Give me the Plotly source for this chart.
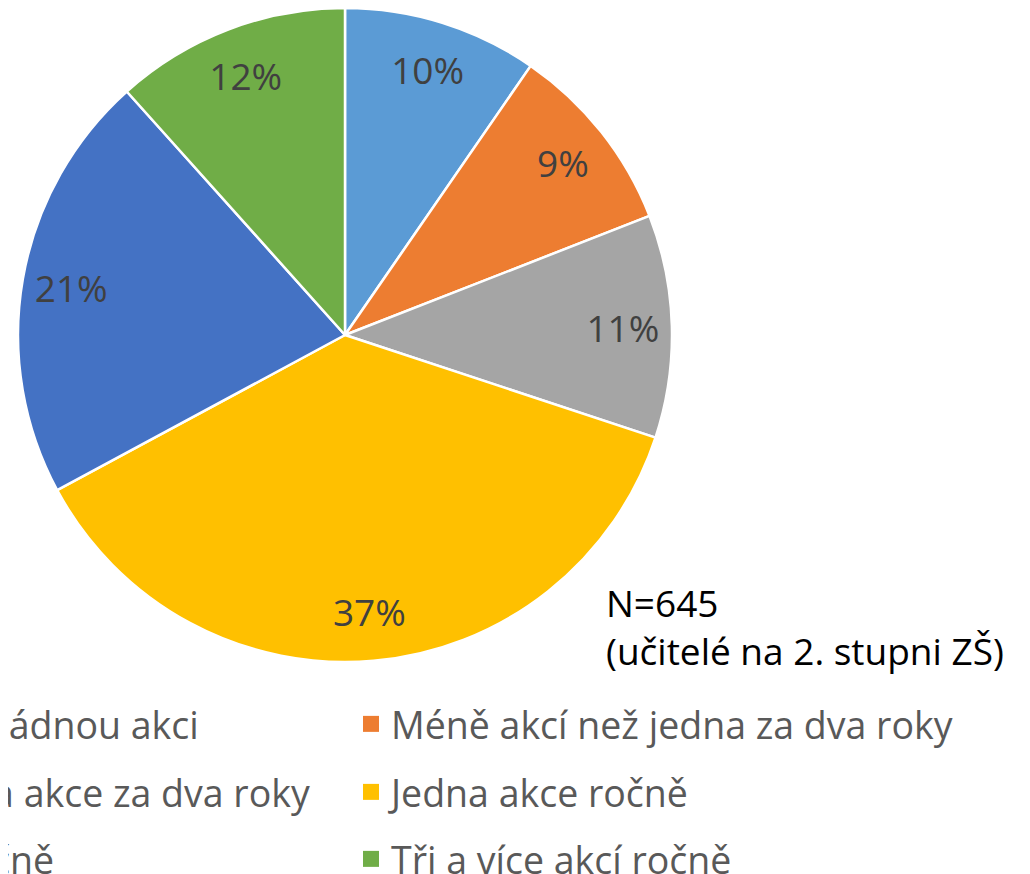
import plotly.graph_objects as go

labels = [
    "Nezúčastnil(a) jsem se žádnou akci",
    "Méně akcí než jedna za dva roky",
    "Jedna akce za dva roky",
    "Jedna akce ročně",
    "Dvě akce ročně",
    "Tři a více akcí ročně",
]
counts = [62, 61, 71, 239, 137, 75]
colors = ["#5B9BD5", "#ED7D31", "#A5A5A5", "#FFC000", "#4472C4", "#70AD47"]
note_lines = ["N=645", "(učitelé na 2. stupni ZŠ)"]

# the page body adds an 8px offset, so the figure is sized/positioned for it
W, H = 1022, 866
FONT = "Open Sans"


def px(x):
    return x / W


def py(y):
    return 1 - y / H


pie_domain = dict(x=[px(10), px(664)], y=[py(654), py(0)])

fig = go.Figure()
# coloured slices
fig.add_trace(go.Pie(
    labels=labels, values=counts,
    marker=dict(colors=colors, line=dict(color="white", width=2.5)),
    sort=False, direction="clockwise", rotation=0,
    textinfo="none", showlegend=False,
    hoverinfo="label+percent", domain=pie_domain,
))
# percentage labels on an outer ring (as Excel places them)
fig.add_trace(go.Pie(
    labels=labels, values=counts, hole=0.7,
    marker=dict(colors=["rgba(0,0,0,0)"] * len(labels), line=dict(width=0)),
    sort=False, direction="clockwise", rotation=0,
    textposition="inside", insidetextorientation="horizontal",
    texttemplate="%{percent:.0%}",
    textfont=dict(family=FONT, size=37, color="#404040"),
    showlegend=False, hoverinfo="skip", domain=pie_domain,
))

# legend: two columns, three rows (left column is cut by the page edge)
legend_ids = ["legend", "legend2", "legend3", "legend4", "legend5", "legend6"]
for lab, col, lid in zip(labels, colors, legend_ids):
    fig.add_trace(go.Scatter(
        x=[None], y=[None], mode="markers",
        marker=dict(symbol="square", size=16, color=col),
        name=lab, legend=lid, showlegend=True, hoverinfo="skip",
    ))

row_y = [716, 784, 851]
left_col_text_end = [191, 305, 46]
right_col_left = 343
leg_common = dict(
    orientation="h", xref="paper", yref="paper", yanchor="middle",
    font=dict(family=FONT, size=37.5, color="#595959"),
    bgcolor="rgba(0,0,0,0)", borderwidth=0, itemsizing="trace",
)
legends = {}
for i, lid in enumerate(legend_ids):
    r = i // 2
    if i % 2 == 0:
        legends[lid] = dict(leg_common, x=px(left_col_text_end[r] + 5),
                            xanchor="right", y=py(row_y[r]))
    else:
        legends[lid] = dict(leg_common, x=px(right_col_left),
                            xanchor="left", y=py(row_y[r]))

fig.update_layout(
    width=W, height=H,
    margin=dict(l=0, r=0, t=0, b=0, autoexpand=False),
    paper_bgcolor="white", plot_bgcolor="white",
    xaxis=dict(visible=False), yaxis=dict(visible=False),
    annotations=[dict(
        text="<br>".join(note_lines), xref="paper", yref="paper",
        x=px(596), y=py(618), xanchor="left", yanchor="middle",
        align="left", showarrow=False,
        font=dict(family=FONT, size=37, color="black"),
    )],
    **legends,
)

fig.write_html("out.html")
